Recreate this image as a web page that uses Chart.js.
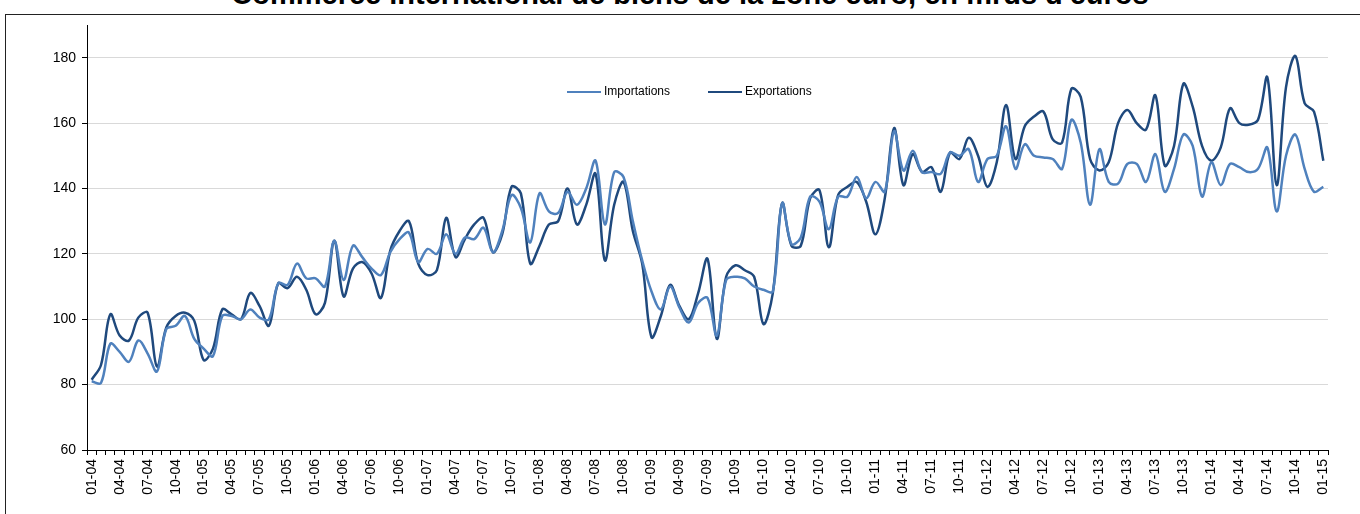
<!DOCTYPE html>
<html>
<head>
<meta charset="utf-8">
<script src="https://cdn.jsdelivr.net/npm/chart.js@4.4.1/dist/chart.umd.min.js"></script>
<style>
  html, body { margin: 0; padding: 0; background: #fff; overflow: hidden; }
  #wrap { position: relative; width: 1360px; height: 514px; overflow: hidden; }
  #frame { position: absolute; left: 5px; top: 14px; width: 1400px; height: 600px; border: 1px solid #222; }
  #title { position: absolute; left: 0; top: -22px; width: 1380px; text-align: center; white-space: nowrap;
           font: bold 29px "Liberation Sans", Arial, sans-serif; color: #000; }
  #chart { position: absolute; left: 0; top: 0; }
</style>
</head>
<body>
<div id="wrap">
  <div id="frame"></div>
  <div id="title">Commerce international de biens de la zone euro, en mrds d'euros</div>
  <canvas id="chart" width="1360" height="514"></canvas>
</div>
<script>
// months and years used for the category labels (mm-yy), 01-04 .. 01-15
const months = ['01', '02', '03', '04', '05', '06', '07', '08', '09', '10', '11', '12'];
const years = ['04', '05', '06', '07', '08', '09', '10', '11', '12', '13', '14', '15'];

const categories = [];
years.forEach(y => months.forEach(m => categories.push(m + '-' + y)));
categories.length = 133;

// values, mrds d'euros
const importations = [
  81, 80.5, 92.5, 90, 87, 93.5, 89.5, 84, 97, 98, 101, 94,
  91, 88.7, 101, 101, 100, 103, 100.5, 100, 111, 110.5, 117, 112.5,
  112.5, 110, 124, 112, 122.5, 119, 115.5, 113.5, 120.5, 124.5, 126.5, 117.5,
  121.5, 120, 126, 120, 125, 124.5, 128, 120.5, 127, 138, 134, 123.5,
  138.5, 133, 132.5, 139, 135, 140, 148.5, 129, 145, 143.5, 130, 118,
  108.5, 103, 110, 103.5, 99, 105, 106.5, 95, 112, 113, 112.5, 110,
  109, 108.5, 135.5, 123, 125, 137.5, 136, 127.5, 137.5, 137.5, 143.5, 137,
  142, 139, 157.5, 145.5, 151.5, 145, 145, 144.5, 151, 150, 152, 142,
  149, 150, 159, 146, 153.5, 150, 149.5, 149, 146, 161, 154, 135,
  152, 142, 141.5, 147.5, 147.5, 142, 150.5, 139, 146, 156.5, 153, 137.5,
  148, 141, 147.5, 146.5, 145, 146, 152.5, 133, 150, 156.5, 146, 139,
  140.5
];

const exportations = [
  81.5, 86, 101.5, 95, 93.5, 100.5, 102, 85.5, 97.5, 101, 102, 99.5,
  87.5, 91, 103, 101.5, 100, 108, 104, 98, 111, 109.5, 113, 109,
  101.5, 105, 124, 107, 115.5, 117.5, 114, 106.5, 121, 127, 130, 117,
  113.5, 115, 131, 119, 124.5, 129, 131, 120.5, 126, 140.5, 138.5, 117,
  122.5, 129, 130, 140, 129, 135, 144.5, 118, 135, 142, 127, 117,
  94.5, 101, 110.5, 104, 100, 108, 118.5, 94, 113, 116.5, 115, 113,
  98.5, 108, 135.5, 122.5, 122.5, 137, 139.5, 122, 138, 140.5, 142, 136,
  126, 137, 158.5, 141, 150.5, 145, 146.5, 139, 151, 149, 155.5, 150,
  140.5, 148, 165.5, 149, 159, 162, 163.5, 155, 154, 170.5, 168, 149,
  145.5, 148, 160, 164, 160, 158, 168.5, 147, 153, 172, 165, 153,
  148.5, 152.5, 164.5, 160, 159.5, 161, 174, 141, 171, 180.5, 166, 163.5,
  148.5
];

const yTicks = [60, 80, 100, 120, 140, 160, 180];

const colImp = '#4F81BD';
const colExp = '#1F497D';

Chart.defaults.font.family = '"Liberation Sans", Arial, sans-serif';
Chart.defaults.color = '#000';

// small legend drawn inside the plot, like the original
const insideLegend = {
  id: 'insideLegend',
  afterDraw(chart) {
    const ctx = chart.ctx;
    const items = [
      { text: 'Importations', color: colImp, x: 567 },
      { text: 'Exportations', color: colExp, x: 708 }
    ];
    ctx.save();
    ctx.font = '12px "Liberation Sans", Arial, sans-serif';
    ctx.textBaseline = 'middle';
    ctx.fillStyle = '#000';
    items.forEach(it => {
      ctx.strokeStyle = it.color;
      ctx.lineWidth = 2;
      ctx.beginPath();
      ctx.moveTo(it.x, 92);
      ctx.lineTo(it.x + 34, 92);
      ctx.stroke();
      ctx.fillText(it.text, it.x + 37, 92);
    });
    ctx.restore();
  }
};

const ctx = document.getElementById('chart').getContext('2d');
new Chart(ctx, {
  type: 'line',
  data: {
    labels: categories,
    datasets: [
      { label: 'Importations', data: importations, borderColor: colImp, borderWidth: 2.5,
        pointRadius: 0, tension: 0.35, fill: false },
      { label: 'Exportations', data: exportations, borderColor: colExp, borderWidth: 2.5,
        pointRadius: 0, tension: 0.35, fill: false }
    ]
  },
  options: {
    responsive: false,
    animation: false,
    layout: { padding: { left: 0, right: 32, top: 25, bottom: 0 } },
    plugins: {
      legend: { display: false },
      title: { display: false },
      tooltip: { enabled: false }
    },
    scales: {
      x: {
        offset: true,
        grid: { offset: true, drawOnChartArea: false, drawTicks: true, tickLength: 5, tickColor: '#000' },
        border: { color: '#000', width: 1 },
        ticks: {
          autoSkip: false, minRotation: 90, maxRotation: 90, padding: 4,
          font: { size: 14 },
          callback: (v, i) => (i % 3 === 0 ? categories[i] : '')
        },
        afterFit: s => { s.height = 64; }
      },
      y: {
        min: 60, max: 190,
        grid: { color: '#D9D9D9', tickColor: '#000', tickLength: 5 },
        border: { color: '#000', width: 1 },
        afterBuildTicks: s => { s.ticks = yTicks.map(v => ({ value: v })); },
        ticks: { padding: 6, font: { size: 14 } },
        afterFit: s => { s.width = 87; }
      }
    }
  },
  plugins: [insideLegend]
});
</script>
</body>
</html>
